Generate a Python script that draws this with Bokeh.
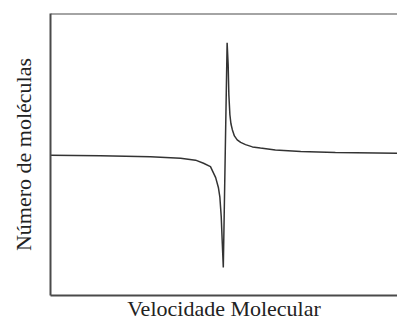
from bokeh.plotting import figure
from bokeh.models import LinearAxis, FixedTicker, Range1d, Span
from bokeh.embed import file_html
from bokeh.resources import INLINE

# Velocidade (arbitrary units) and número de moléculas (arbitrary units)
velocidade = [0.0, 14.4, 28.8, 37.5, 41.8, 44.1, 46.1, 47.6, 48.4, 48.8, 49.2, 49.5, 49.8,
              50.9, 51.2, 51.4, 51.7, 52.0, 52.4, 53.0, 53.8, 54.8, 56.2, 58.2, 60.5,
              64.8, 72.1, 82.1, 100.0]
moleculas = [49.7, 49.6, 49.2, 48.7, 48.0, 46.9, 45.7, 41.8, 38.2, 35.0, 28.0, 18.8, 9.9,
             89.6, 81.8, 71.2, 64.1, 60.9, 58.8, 56.6, 55.2, 54.3, 53.5, 52.7, 52.3,
             51.6, 51.1, 50.7, 50.4]

x_label = "Velocidade Molecular"
y_label = "Número de moléculas"

FONT = "Liberation Serif"
BOX = "#4a4a4a"
TXT = "#222222"

p = figure(width=397, height=323, output_backend="svg", toolbar_location=None,
           x_range=Range1d(0, 100), y_range=Range1d(0, 100),
           x_axis_location=None, y_axis_location=None,
           min_border_left=50, min_border_top=13, min_border_right=0, min_border_bottom=27)
p.outline_line_color = None
p.grid.visible = False
p.background_fill_color = "white"
p.border_fill_color = "white"

p.line(velocidade, moleculas, line_color="#333333", line_width=1.5)

def make_axis(label):
    ax = LinearAxis(ticker=FixedTicker(ticks=[]))
    ax.axis_line_color = BOX
    ax.axis_line_width = 2
    ax.major_tick_line_color = None
    ax.minor_tick_line_color = None
    ax.major_tick_out = 0
    ax.major_tick_in = 0
    ax.minor_tick_out = 0
    ax.minor_tick_in = 0
    ax.major_label_standoff = 0
    ax.axis_label = label
    ax.axis_label_text_font = FONT
    ax.axis_label_text_font_size = "22px"
    ax.axis_label_text_font_style = "normal"
    ax.axis_label_text_color = TXT
    return ax

left = make_axis(y_label)
left.axis_label_standoff = 15
bottom = make_axis(x_label)
bottom.axis_label_standoff = 0
p.add_layout(left, "left")
p.add_layout(bottom, "below")

p.add_layout(Span(location=100, dimension="width", line_color=BOX, line_width=2))

open("out.html", "w").write(file_html(p, INLINE))
